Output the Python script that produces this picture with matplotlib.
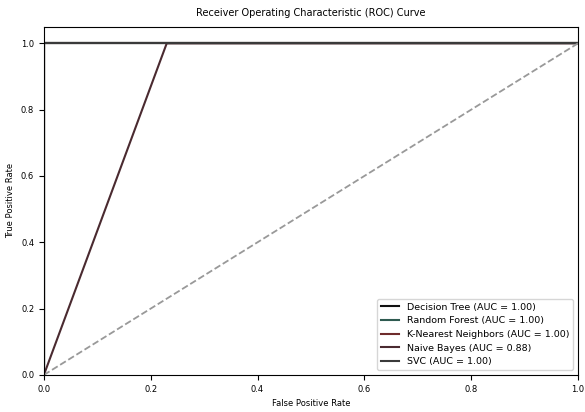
import matplotlib
matplotlib.use("Agg")
import matplotlib.pyplot as plt

# roc curves
models = ["Decision Tree", "Random Forest", "K-Nearest Neighbors", "Naive Bayes", "SVC"]
aucs = [1.00, 1.00, 1.00, 0.88, 1.00]
fprs = [[0.0, 0.0, 1.0], [0.0, 0.0, 1.0], [0.0, 0.0, 1.0], [0.0, 0.23, 1.0], [0.0, 0.0, 1.0]]
tprs = [[0.0, 1.0, 1.0], [0.0, 1.0, 1.0], [0.0, 1.0, 1.0], [0.0, 1.0, 1.0], [0.0, 1.0, 1.0]]
colors = ["#111111", "#2e5a50", "#6e2b2b", "#4a2a30", "#3a3a3a"]

ticks = [0.0, 0.2, 0.4, 0.6, 0.8, 1.0]

fig = plt.figure(figsize=(5.85, 4.12), dpi=100)
ax = fig.add_axes([0.075, 0.09, 0.913, 0.845])

for name, auc, fpr, tpr, c in zip(models, aucs, fprs, tprs, colors):
    ax.plot(fpr, tpr, color=c, lw=1.5, label="%s (AUC = %.2f)" % (name, auc))

ax.plot([0, 1], [0, 1], color="#999999", lw=1.3, linestyle="--")

ax.set_xlim(0.0, 1.0)
ax.set_ylim(0.0, 1.05)
ax.set_xticks(ticks)
ax.set_yticks(ticks)
ax.tick_params(labelsize=6)
ax.set_xlabel("False Positive Rate", fontsize=6)
ax.set_ylabel("True Positive Rate", fontsize=6)
ax.set_title("Receiver Operating Characteristic (ROC) Curve", fontsize=7, pad=8)
ax.legend(loc="lower right", fontsize=6.8)

fig.savefig("out.png", dpi=100)
